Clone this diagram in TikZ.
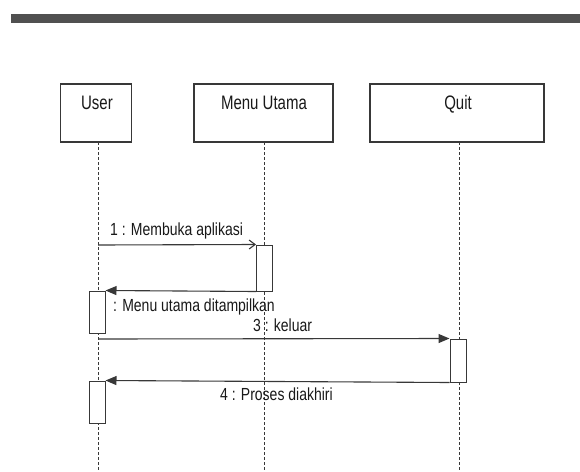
\documentclass[tikz,border=0pt]{standalone}
\usepackage{fontspec}
\setmainfont{Liberation Sans}
\usetikzlibrary{arrows.meta}
\definecolor{ink}{HTML}{383838}
\definecolor{bar}{HTML}{505050}
\newcommand{\tallfont}[3]{\fontsize{#1}{#1}\selectfont\scalebox{1}[#2]{#3}}
\begin{document}
\begin{tikzpicture}[x=1pt,y=-1pt,
  lifebox/.style={draw=ink,line width=1.3pt,fill=white,minimum height=58pt,inner sep=0pt},
  title/.style={text=black!90,inner sep=0pt},
  lifeline/.style={draw=ink,line width=0.9pt,dash pattern=on 3pt off 2pt},
  actbox/.style={draw=ink,line width=1pt,fill=white,minimum width=16pt,inner sep=0pt},
  msgopen/.style={draw=ink,line width=1.1pt,-{Straight Barb[length=6pt,width=9pt]}},
  msgfill/.style={draw=ink,line width=1.1pt,-{Triangle[length=11pt,width=9pt]}},
  msglabel/.style={text=black!90,inner sep=0pt,anchor=west}]
\useasboundingbox (0,0) rectangle (580,471);
\fill[white] (0,0) rectangle (580,471);
% header band
\fill[bar] (11,14) rectangle (580,23);

% participants
\node[lifebox,minimum width=71pt] (user) at (96,113) {};
\node[lifebox,minimum width=139pt] (menu) at (263.5,113) {};
\node[lifebox,minimum width=174pt] (quit) at (457,113) {};
\node[title] (usert) at (97,103) {\tallfont{15}{1.3}{User}};
\node[title] (menut) at (264,103) {\tallfont{15}{1.3}{Menu Utama}};
\node[title] (quitt) at (458,104) {\tallfont{15}{1.3}{Quit}};

% lifelines
\coordinate (userEnd) at (98,471);
\coordinate (menuEnd) at (264,471);
\coordinate (quitEnd) at (459,471);
\draw[lifeline] (98,142) -- (userEnd);
\draw[lifeline] (264,142) -- (menuEnd);
\draw[lifeline] (459,142) -- (quitEnd);

% activations
\node[actbox,minimum height=46pt] (actMenu) at (264.5,268) {};
\node[actbox,minimum height=42pt] (actUserA) at (97,312) {};
\node[actbox,minimum height=43pt] (actQuit) at (458,360.5) {};
\node[actbox,minimum height=42pt] (actUserB) at (97,402) {};

% message sources on the user lifeline
\coordinate (m1) at (98,245);
\coordinate (m3) at (98,339);

% messages
\draw[msgopen] (m1) -- (actMenu.north west);
\draw[msgfill] (actMenu.south west) -- (actUserA.north east);
\draw[msgfill] (m3) -- (actQuit.north west);
\draw[msgfill] (actQuit.south west) -- (actUserB.north east);

% message labels
\node[msglabel] (l1) at (110,231) {\tallfont{14}{1.25}{1 : Membuka aplikasi}};
\node[msglabel] (l2) at (113,307) {\tallfont{14}{1.25}{: Menu utama ditampilkan}};
\node[msglabel] (l3) at (253,325) {\tallfont{14}{1.25}{3 : keluar}};
\node[msglabel] (l4) at (220,394) {\tallfont{14}{1.25}{4 : Proses diakhiri}};
\end{tikzpicture}
\end{document}
